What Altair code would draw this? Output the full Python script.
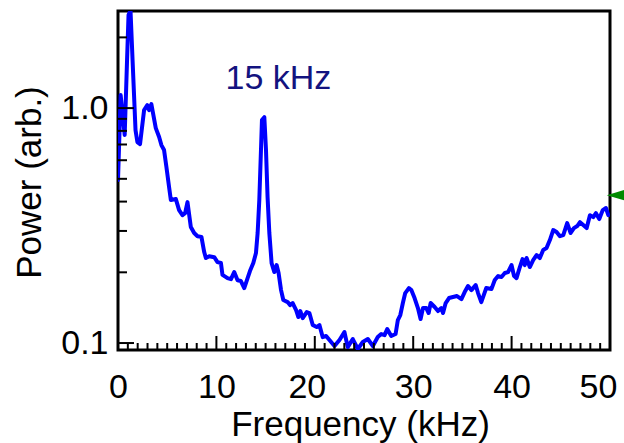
import altair as alt
import pandas as pd

# ---- data ----
freq = [0.0, 0.27, 0.68, 0.92, 1.07, 1.27, 1.48, 1.78, 1.97, 2.24,
        2.65, 2.98, 3.16, 3.39, 3.84, 4.18, 4.41, 4.68, 4.92, 5.19, 5.37, 5.88, 6.21, 6.55, 6.82, 7.06,
        7.40, 7.74, 8.08, 8.48, 8.76, 8.93, 9.27, 9.78, 10.11, 10.46, 10.62, 11.13, 11.48, 11.81, 12.15,
        12.49, 12.83,
        13.17, 13.41, 13.75, 14.02, 14.19, 14.36, 14.53, 14.63, 14.87, 15.04,
        15.20, 15.38, 15.61, 15.89, 16.12, 16.32, 16.57, 16.80, 17.24, 17.48,
        17.75, 18.10, 18.33, 18.53, 18.77, 19.18, 19.45, 19.79, 20.19, 20.47,
        20.80, 21.15, 21.49, 22.00, 22.51, 23.01, 23.35, 23.86, 24.37, 24.88, 25.39,
        25.90, 26.40, 26.75, 27.09, 27.36, 27.77, 28.21, 28.44, 28.69, 28.95,
        29.19, 29.56, 29.81, 30.14, 30.48, 30.75, 30.99, 31.33, 31.57, 31.77,
        32.18, 32.52, 32.86, 33.03, 33.30, 33.64, 34.04, 34.45, 34.90, 35.23,
        35.57, 35.92, 36.35, 36.59,
        36.92, 37.42, 37.95, 38.29, 38.63, 38.97, 39.31, 39.64, 39.99, 40.25,
        40.50, 40.84, 41.11, 41.34, 41.52, 41.85, 42.19, 42.54, 42.87, 43.21,
        43.55, 43.89, 44.23, 44.57, 44.91, 45.25, 45.65, 46.00, 46.33, 46.67,
        46.95, 47.28, 47.63, 47.96, 48.30, 48.57, 48.91, 49.26, 49.59, 49.83]

power = [0.494, 1.136, 0.768, 1.6, 2.49, 2.61, 1.6, 0.806, 0.717, 0.703,
         0.980, 1.03, 0.98, 1.04, 0.822, 0.753, 0.696, 0.663, 0.561, 0.461, 0.406, 0.410, 0.368, 0.350,
         0.357, 0.398, 0.312, 0.294, 0.285, 0.283, 0.244, 0.230, 0.234, 0.232, 0.221, 0.219, 0.195,
         0.189, 0.187, 0.2005, 0.185, 0.1836, 0.1714,
         0.189, 0.2025, 0.219, 0.2415, 0.294, 0.406, 0.663, 0.889, 0.915, 0.663,
         0.418, 0.294, 0.219, 0.2005, 0.2147, 0.1986, 0.168, 0.1524, 0.1494, 0.1451,
         0.148, 0.1382, 0.129, 0.1368, 0.1277, 0.1355, 0.1342, 0.1193, 0.117, 0.1193,
         0.106, 0.1071, 0.103, 0.0971, 0.103, 0.1114, 0.0961, 0.104, 0.0943, 0.101, 0.104,
         0.0971, 0.106, 0.1092, 0.1081, 0.1147, 0.1071, 0.1092, 0.1253, 0.1316, 0.148,
         0.1632, 0.1714, 0.168, 0.1554, 0.1409, 0.1265, 0.1409, 0.1409, 0.1342, 0.148,
         0.1423, 0.1368, 0.1409, 0.1342, 0.148, 0.1554, 0.157, 0.1585, 0.1539, 0.1648,
         0.1748, 0.168, 0.1766, 0.1632,
         0.1494, 0.1714, 0.1697, 0.1854, 0.1928, 0.191, 0.1986, 0.2005, 0.2147, 0.1928,
         0.189, 0.2106, 0.2277, 0.2147, 0.230, 0.2106, 0.2256, 0.2369, 0.230, 0.2488,
         0.2537, 0.2744, 0.3027, 0.2967, 0.285, 0.288, 0.324, 0.294, 0.3085, 0.3147,
         0.327, 0.318, 0.3085, 0.350, 0.3436, 0.357, 0.337, 0.368, 0.3754, 0.350]

x_major = [0, 10, 20, 30, 40, 50]
x_minor = [v for v in range(1, 50) if v % 10 != 0]
y_major = [0.1, 1.0]
y_minor = [0.2, 0.3, 0.4, 0.5, 0.6, 0.7, 0.8, 0.9, 2.0]

ann_text = ["15 kHz"]
ann_freq = [16.3]
ann_power = [1.2]

marker_freq = [50.6]
marker_power = [0.426]

FONT = "Liberation Sans"
W, H = 492, 339

df = pd.DataFrame({"freq": freq, "power": power})
xs = alt.Scale(domain=[0, 50], nice=False, zero=False)
ys = alt.Scale(type="log", domain=[0.0934, 2.59], nice=False)

x_axis = alt.Axis(
    values=x_major, format="d", title="Frequency (kHz)",
    ticks=False, tickSize=0, domain=False, grid=False,
    labelFont=FONT, labelFontSize=34, labelColor="black",
    labelPadding=47, labelBaseline="alphabetic", labelFlush=False, labelOverlap=False,
    labelOffset={"condition": [{"test": "datum.value == 20", "value": -8},
                               {"test": "datum.value == 50", "value": -12}],
                 "value": 0},
    titleFont=FONT, titleFontSize=35, titleFontWeight="normal", titleColor="black",
    titleX=242, titleY=85, titleBaseline="alphabetic", titleAlign="center",
)
y_axis = alt.Axis(
    values=y_major, format=".1f", title="Power (arb.)",
    ticks=False, tickSize=0, domain=False, grid=False,
    labelFont=FONT, labelFontSize=34, labelColor="black", labelPadding=10,
    labelOverlap=False, labelFlush=False,
    titleFont=FONT, titleFontSize=35, titleFontWeight="normal", titleColor="black",
    titleAngle=270, titleX=-78, titleY=171, titleBaseline="alphabetic", titleAlign="center",
)

line = alt.Chart(df).mark_line(color="#0000ff", strokeWidth=4, clip=True,
                               strokeJoin="round", strokeCap="round").encode(
    x=alt.X("freq:Q", scale=xs, axis=x_axis),
    y=alt.Y("power:Q", scale=ys, axis=y_axis),
    order="freq:Q",
)

xmin = alt.Chart(pd.DataFrame({"f": x_minor})).mark_rule(color="black", strokeWidth=2).encode(
    x=alt.X("f:Q", scale=xs), y=alt.value(H), y2=alt.value(H - 7))
xmaj = alt.Chart(pd.DataFrame({"f": x_major})).mark_rule(color="black", strokeWidth=2).encode(
    x=alt.X("f:Q", scale=xs), y=alt.value(H), y2=alt.value(H - 14))
ymin = alt.Chart(pd.DataFrame({"p": y_minor})).mark_rule(color="black", strokeWidth=2).encode(
    y=alt.Y("p:Q", scale=ys), x=alt.value(0), x2=alt.value(9))
ymaj = alt.Chart(pd.DataFrame({"p": y_major})).mark_rule(color="black", strokeWidth=2).encode(
    y=alt.Y("p:Q", scale=ys), x=alt.value(0), x2=alt.value(16))

ann = alt.Chart(pd.DataFrame({"t": ann_text, "f": ann_freq, "p": ann_power})).mark_text(
    font=FONT, fontSize=34, color="#13137f", align="center", baseline="alphabetic").encode(
    x=alt.X("f:Q", scale=xs), y=alt.Y("p:Q", scale=ys), text="t:N")

marker = alt.Chart(pd.DataFrame({"f": marker_freq, "p": marker_power})).mark_point(
    shape="M-1,0L1,-0.6L1,0.6Z", size=336, filled=True, opacity=1, color="#008a00").encode(
    x=alt.X("f:Q", scale=xs), y=alt.Y("p:Q", scale=ys))

chart = alt.layer(line, xmin, xmaj, ymin, ymaj, ann, marker).properties(
    width=W, height=H,
    autosize=alt.AutoSizeParams(type="none"),
    padding={"left": 118, "top": 11, "right": 14, "bottom": 93},
    background="white",
).configure_view(stroke="black", strokeWidth=3)

chart.save("out.html", embed_options={"renderer": "svg", "actions": False})
